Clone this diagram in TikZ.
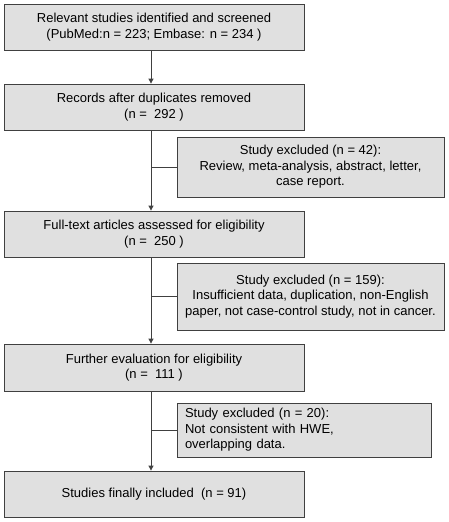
\documentclass[tikz,border=0pt]{standalone}
\usepackage{fontspec}
\setmainfont{Liberation Sans}
\usetikzlibrary{positioning}
\usetikzlibrary{arrows.meta}
\definecolor{boxgray}{HTML}{E0E0E0}
\definecolor{linegray}{HTML}{404040}
\tikzstyle{B} = [draw=linegray,fill=boxgray,line width=0.8pt,minimum width=300pt,minimum height=46pt,inner sep=0pt,align=center,font=\fontsize{13}{15.5}\selectfont]
\tikzstyle{E} = [B,minimum width=267pt]
\tikzset{>={Triangle[length=5pt,width=5pt]}}

\begin{document}
\begin{tikzpicture}[x=1pt,y=-1pt]
  \useasboundingbox (0,0) rectangle (449,522);
  \node [B] (b1) at (154,27) {Relevant studies identified and screened\\(PubMed:n = 223; Embase: n = 234 )};
  \node [B] (b2) at (154,107) {Records after duplicates removed\\(n = \ 292 )};
  \node [E,minimum height=60pt] (e1) at (310.5,167) {Study excluded (n = 42):\\Review, meta-analysis, abstract, letter,\\case report.};
  \node [B] (b3) at (154,234) {Full-text articles assessed for eligibility\\(n = \ 250 )};
  \node [E,minimum height=67pt] (e2) at (310.5,296.5) {Study excluded (n = 159):\\Insufficient data, duplication, non-English\\paper, not case-control study, not in cancer.};
  \node [B,minimum height=47pt] (b4) at (154,367.5) {Further evaluation for eligibility\\(n = \ 111 )};
  \node [E,minimum width=254pt,minimum height=54pt,align=left,text width=238pt,inner xsep=8pt] (e3) at (304,430) {Study excluded (n = 20):\\Not consistent with HWE,\\overlapping data.};
  \node [B] (b5) at (154,494) {Studies finally included \ (n = 91)};

  \coordinate (ax) at (151,0);
	\draw [->,linegray,line width=0.8pt] (b1.south -| ax) -- (b2.north -| ax);
	\draw [->,linegray,line width=0.8pt] (b2.south -| ax) -- (b3.north -| ax);
	\draw [->,linegray,line width=0.8pt] (b3.south -| ax) -- (b4.north -| ax);
	\draw [->,linegray,line width=0.8pt] (b4.south -| ax) -- (b5.north -| ax);
	\draw [linegray,line width=0.8pt] (e1.west) -- (e1.west -| ax);
	\draw [linegray,line width=0.8pt] (e2.west) -- (e2.west -| ax);
	\draw [linegray,line width=0.8pt] (e3.west) -- (e3.west -| ax);
\end{tikzpicture}
\end{document}
